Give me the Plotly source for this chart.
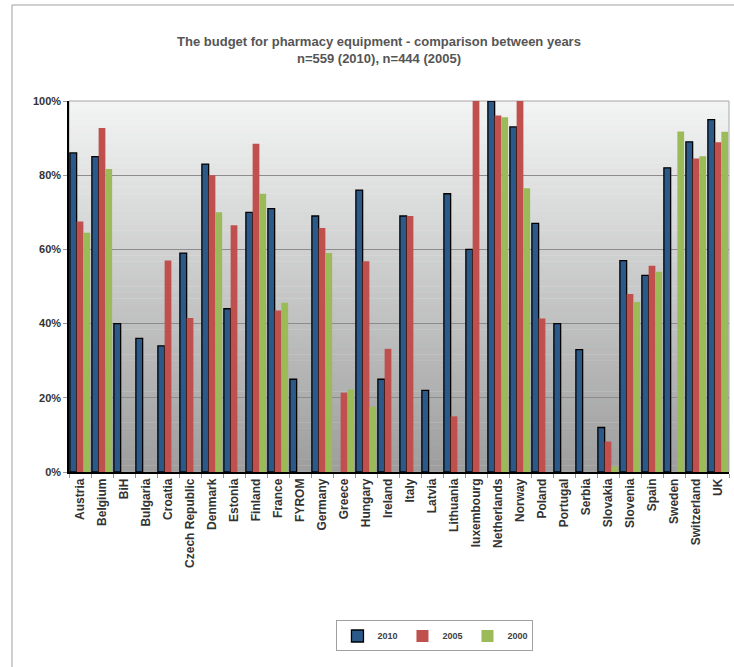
import plotly.graph_objects as go
import numpy as np

categories = ["Austria", "Belgium", "BiH", "Bulgaria", "Croatia", "Czech Republic", "Denmark",
              "Estonia", "Finland", "France", "FYROM", "Germany", "Greece", "Hungary", "Ireland",
              "Italy", "Latvia", "Lithuania", "luxembourg", "Netherlands", "Norway", "Poland",
              "Portugal", "Serbia", "Slovakia", "Slovenia", "Spain", "Sweden", "Switzerland", "UK"]

v2010 = [86, 85, 40, 36, 34, 59, 83, 44, 70, 71, 25, 69, None, 76, 25,
         69, 22, 75, 60, 100, 93, 67, 40, 33, 12, 57, 53, 82, 89, 95]
v2005 = [67.5, 92.7, None, None, 57, 41.5, 80, 66.5, 88.5, 43.5, None, 65.8, 21.4, 56.8, 33.2,
         69, None, 15, 100, 96.1, 100, 41.4, None, None, 8.2, 48, 55.6, None, 84.5, 88.9]
v2000 = [64.5, 81.7, None, None, None, None, 70, None, 75, 45.6, None, 59, 22.2, 17.6, None,
         None, None, None, None, 95.6, 76.5, None, None, None, 1.5, 45.8, 54, 91.8, 85.1, 91.7]

y_ticks = [0, 20, 40, 60, 80, 100]
y_tick_labels = ["0%", "20%", "40%", "60%", "80%", "100%"]

FONT = "Liberation Sans, Arial, sans-serif"

fig = go.Figure()
fig.add_trace(go.Bar(name="2010", x=categories, y=v2010, marker=dict(color="#2B5A8A", line=dict(color="#000000", width=1.3))))
fig.add_trace(go.Bar(name="2005", x=categories, y=v2005, marker=dict(color="#C0504D", line=dict(width=0))))
fig.add_trace(go.Bar(name="2000", x=categories, y=v2000, marker=dict(color="#9BBB59", line=dict(width=0))))

# gradient plot background
shapes = []
n = 60
top = np.array([243, 244, 244])
bot = np.array([157, 157, 157])
for i in range(n):
    t = (i + 0.5) / n
    c = top + (bot - top) * t
    shapes.append(dict(type="rect", xref="paper", yref="paper", x0=0, x1=1,
                       y0=1 - (i + 1) / n, y1=1 - i / n + 0.001, layer="below",
                       line=dict(width=0), fillcolor="rgb(%d,%d,%d)" % tuple(c.round())))
# plot frame
shapes.append(dict(type="rect", xref="paper", yref="paper", x0=0, x1=1, y0=0, y1=1,
                   layer="below", line=dict(color="#A8A8A8", width=1), fillcolor="rgba(0,0,0,0)"))
# outer chart border
shapes.append(dict(type="rect", xref="paper", yref="paper", x0=-0.0864, x1=1.1, y0=-0.7, y1=1.2588,
                   line=dict(color="#A0A0A0", width=1), fillcolor="rgba(0,0,0,0)", layer="below"))

fig.update_layout(
    width=734, height=667,
    margin=dict(l=69, r=5, t=101, b=195),
    paper_bgcolor="white", plot_bgcolor="rgba(0,0,0,0)",
    barmode="group", bargap=0.08, bargroupgap=0,
    font=dict(family=FONT, color="#333333"),
    title=dict(text="The budget for pharmacy equipment - comparison between years<br>n=559 (2010), n=444 (2005)",
               x=0.4697, xref="paper", xanchor="center", y=1 - 46 / 667, yref="container", yanchor="middle",
               font=dict(family=FONT, size=13, color="#555555", weight="bold")),
    shapes=shapes,
    showlegend=True,
    legend=dict(orientation="h", x=0.5545, xanchor="center", y=-0.442, yanchor="middle",
                bgcolor="white", bordercolor="#A0A0A0", borderwidth=1,
                font=dict(family=FONT, size=9, color="#404040", weight="bold"), traceorder="normal",
                entrywidth=20, itemwidth=30),
    xaxis=dict(type="category", range=[-0.5, 29.5], tickangle=-90, showgrid=False,
               showline=True, linecolor="#000000", linewidth=1.5,
               ticks="outside", tickson="boundaries", ticklen=4, tickcolor="#999999",
               tickfont=dict(family=FONT, size=12, color="#333333", weight="bold")),
    yaxis=dict(range=[0, 100], tickvals=y_ticks, ticktext=y_tick_labels,
               showgrid=True, gridcolor="#8C8C8C", gridwidth=1, zeroline=False,
               showline=True, linecolor="#000000", linewidth=1.5,
               ticks="outside", ticklen=4, tickcolor="#999999",
               tickfont=dict(family=FONT, size=11, color="#333333", weight="bold")),
)

fig.write_html("out.html", config={"displayModeBar": False},
               post_script="document.body.style.margin='0';document.body.style.overflow='hidden';")
